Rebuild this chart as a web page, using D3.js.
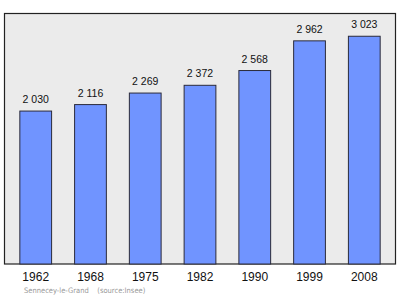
<!DOCTYPE html>
<html>
<head>
<meta charset="utf-8">
<script src="https://cdn.jsdelivr.net/npm/d3@7"></script>
<style>
  body { margin: 0; background: #fff; }
  svg { display: block; }
</style>
</head>
<body>
<div id="chart"></div>
<script>
// data
let years = ["1962", "1968", "1975", "1982", "1990", "1999", "2008"];
let population = [2030, 2116, 2269, 2372, 2568, 2962, 3023];
let townName = "Sennecey-le-Grand";
let sourceText = "(source:Insee)";

let width = 400, height = 299;
let plot = {left: 4.5, top: 13.5, right: 395.5, bottom: 264};

let svg = d3.select("#chart").append("svg")
    .attr("width", width)
    .attr("height", height);

// plot background + frame
svg.append("rect")
    .attr("x", plot.left)
    .attr("y", plot.top)
    .attr("width", plot.right - plot.left)
    .attr("height", plot.bottom - plot.top)
    .attr("fill", "#ebebeb")
    .attr("stroke", "#222")
    .attr("stroke-width", 1.2);

// scales
let x = d3.scaleBand()
    .domain(years)
    .range([plot.left, plot.right])
    .paddingInner(0.42)
    .paddingOuter(0.28);

let y = d3.scaleLinear()
    .domain([0, 3325])
    .range([plot.bottom, plot.top]);

// bars
svg.selectAll(".bar")
    .data(years)
    .enter()
    .append("rect")
    .attr("class", "bar")
    .attr("x", d => x(d))
    .attr("y", (d, i) => y(population[i]))
    .attr("width", x.bandwidth())
    .attr("height", (d, i) => y(0) - y(population[i]))
    .attr("fill", "#7094ff")
    .attr("stroke", "#2a2a3a")
    .attr("stroke-width", 1);

// value labels
let fmt = v => d3.format(",")(v).replace(",", " ");
svg.selectAll(".val")
    .data(years)
    .enter()
    .append("text")
    .attr("class", "val")
    .attr("x", d => x(d) + x.bandwidth() / 2)
    .attr("y", (d, i) => y(population[i]) - 8)
    .attr("text-anchor", "middle")
    .attr("font-family", "Liberation Sans, Arial, sans-serif")
    .attr("font-size", "10.5px")
    .attr("fill", "#111")
    .text((d, i) => fmt(population[i]));

// x axis labels
let xAxis = d3.axisBottom(x).tickSize(0).tickPadding(8);
let gx = svg.append("g")
    .attr("transform", `translate(0,${plot.bottom})`)
    .call(xAxis);
gx.select(".domain").remove();
gx.selectAll("text")
    .attr("font-family", "Liberation Sans, Arial, sans-serif")
    .attr("font-size", "12px")
    .attr("fill", "#111");

// footer
svg.append("text")
    .attr("x", 24)
    .attr("y", 293)
    .attr("font-family", "DejaVu Sans Condensed, DejaVu Sans, sans-serif")
    .attr("font-size", "7.5px")
    .attr("fill", "#999")
    .text(townName + "\u00a0\u00a0\u00a0\u00a0" + sourceText);
</script>
</body>
</html>
